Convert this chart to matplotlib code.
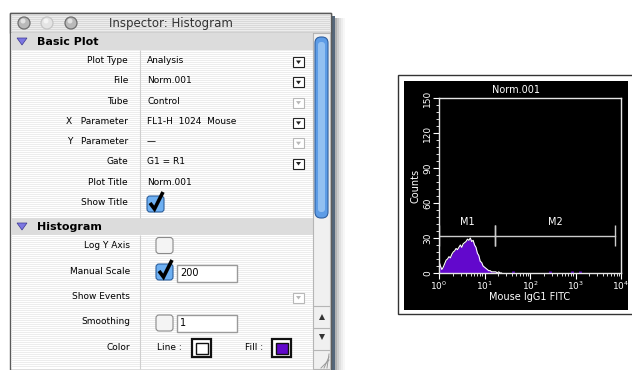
import numpy as np
import matplotlib.pyplot as plt
from matplotlib.patches import Rectangle, FancyBboxPatch, Circle, Polygon
from matplotlib.ticker import MultipleLocator, FixedLocator, LogLocator, NullFormatter

# ---- histogram data: channel numbers (256 channels per decade) and counts
hist_channels = [0, 8, 16, 24, 32, 40, 48, 56, 64, 72, 80, 88, 96, 104, 112,
                 120, 128, 136, 144, 152, 160, 168, 176, 184, 192, 200, 208,
                 216, 224, 232, 240, 248, 256, 264, 272, 280, 288, 296, 304,
                 312, 320, 328, 336, 344, 352]
hist_counts = [10, 6, 3, 5, 8, 11, 12, 14, 13, 16, 18, 19, 21, 20, 22,
               24, 22, 25, 26, 27, 29, 28, 30, 27, 28, 24, 22,
               17, 15, 10, 9, 6, 5, 4, 3, 2, 2, 1, 1,
               1, 1, 0, 1, 0, 0]
stray_channels = [416, 625, 749, 795]
stray_counts = [1.5, 1.5, 1.5, 1.5]

marker_names = ['M1', 'M2']
marker_lo = [1, 17]
marker_hi = [17, 7500]
marker_level = 32

x_ticks = [1, 10, 100, 1000, 10000]
y_ticks = [0, 30, 60, 90, 120, 150]

# ---- inspector panel content
basic_labels = ['Plot Type', 'File', 'Tube', 'X   Parameter', 'Y   Parameter',
                'Gate', 'Plot Title', 'Show Title']
basic_values = ['Analysis', 'Norm.001', 'Control', 'FL1-H  1024  Mouse', '\u2014',
                'G1 = R1', 'Norm.001', '']
basic_popup = ['on', 'on', 'off', 'on', 'off', 'on', None, None]
hist_labels = ['Log Y Axis', 'Manual Scale', 'Show Events', 'Smoothing', 'Color']
fill_color = '#6208cc'

fig = plt.figure(figsize=(6.32, 3.70), dpi=100)
ui = fig.add_axes([0, 0, 1, 1])
ui.set_xlim(0, 632)
ui.set_ylim(370, 0)
ui.axis('off')


def popup(x, y, enabled):
    ec = '#222222' if enabled else '#b8b8b8'
    ui.add_patch(Rectangle((x, y - 5), 11, 10, fc='white', ec=ec, lw=0.8, zorder=3))
    ui.add_patch(Polygon([(x + 3, y - 1.5), (x + 8, y - 1.5), (x + 5.5, y + 2)],
                         fc=ec, ec='none', zorder=3))


def checkbox(x, y, checked):
    if checked:
        ui.add_patch(FancyBboxPatch((x, y - 8), 17, 16, boxstyle='round,pad=0,rounding_size=3',
                                    fc='#6eb0f2', ec='#2d5f9c', lw=0.8, zorder=3))
        ui.plot([x + 3, x + 7.5, x + 16], [y - 1, y + 5, y - 12], color='black', lw=2.6,
                solid_capstyle='butt', solid_joinstyle='miter', zorder=4)
    else:
        ui.add_patch(FancyBboxPatch((x, y - 8), 17, 16, boxstyle='round,pad=0,rounding_size=3',
                                    fc='#f4f4f4', ec='#8a8a8a', lw=0.8, zorder=3))


def textfield(x, y, w, text):
    ui.add_patch(Rectangle((x, y - 8), w, 17, fc='white', ec='#9a9a9a', lw=1, zorder=3))
    ui.text(x + 3, y + 0.5, text, fontsize=7, va='center', ha='left', zorder=4)


def swatch(x, y, color):
    ui.add_patch(Rectangle((x, y - 9), 19, 18, fc='white', ec='#111111', lw=1.6, zorder=3))
    ui.add_patch(Rectangle((x + 3.5, y - 5.5), 12, 11, fc=color, ec='#111111', lw=1, zorder=3))


# window frame and shadow
ui.add_patch(Rectangle((330, 16), 5, 354, fc='#55677b', ec='none', zorder=0.1))
for i, a in enumerate([0.30, 0.20, 0.12, 0.07, 0.03]):
    ui.add_patch(Rectangle((335 + i * 2, 18), 2, 352, fc='black', alpha=a, ec='none', zorder=0.1))
ui.add_patch(Rectangle((10, 13), 321, 357, fc='white', ec='#5a5a5a', lw=1, zorder=0.2))

# title bar
ui.add_patch(Rectangle((10, 13), 321, 20, fc='#ededed', ec='#5a5a5a', lw=1, zorder=0.3))
ui.hlines(np.arange(15, 33, 2), 11, 330, color='#d9d9d9', lw=0.7, zorder=0.4)
for cx, c in zip([24, 47, 71], ['#b9b9b9', '#e4e4e4', '#b9b9b9']):
    ui.add_patch(Circle((cx, 23), 6, fc=c, ec='#6e6e6e' if c != '#e4e4e4' else '#c4c4c4',
                        lw=0.9, zorder=3))
    ui.add_patch(Circle((cx - 1, 21), 2.5, fc='white', alpha=0.6, ec='none', zorder=3))
ui.text(171, 23, 'Inspector: Histogram', fontsize=8.5, color='#333333',
        ha='center', va='center')

# pinstripes
ui.hlines(np.arange(34, 368, 2), 11, 313, color='#ededed', lw=0.7, zorder=0.4)

# section headers
for y0, name in [(33, 'Basic Plot'), (218, 'Histogram')]:
    ui.add_patch(Rectangle((11, y0), 302, 17, fc='#dcdcdc', ec='none', zorder=0.5))
    ui.add_patch(Polygon([(17, y0 + 5), (27, y0 + 5), (22, y0 + 12)],
                         fc='#7c76e2', ec='#3c3890', lw=0.5, zorder=3))
    ui.text(37, y0 + 9, name, fontsize=8, fontweight='bold', va='center')

ui.vlines(140, 50, 218, color='#cfcfcf', lw=0.8, zorder=0.6)
ui.vlines(140, 235, 369, color='#cfcfcf', lw=0.8, zorder=0.6)

# basic plot rows
for i, (lab, val, pop) in enumerate(zip(basic_labels, basic_values, basic_popup)):
    y = 60.5 + 20.3 * i
    ui.text(128, y, lab, fontsize=6.5, ha='right', va='center')
    if val:
        ui.text(147, y, val, fontsize=6.5, ha='left', va='center')
    if pop is not None:
        popup(293, y + 1.5, pop == 'on')
checkbox(147, 204, True)

# histogram rows
for i, lab in enumerate(hist_labels):
    y = 245.5 + 25.5 * i
    ui.text(130, y, lab, fontsize=6.5, ha='right', va='center')
checkbox(156, 245.5, False)
checkbox(156, 272, True)
textfield(177, 273, 60, '200')
popup(293, 297.5, False)
checkbox(156, 323, False)
textfield(177, 323, 60, '1')
ui.text(157, 347, 'Line :', fontsize=6.5, ha='left', va='center')
swatch(192, 348, 'white')
ui.text(245, 347, 'Fill :', fontsize=6.5, ha='left', va='center')
swatch(272, 348, fill_color)

# scroll bar
ui.add_patch(Rectangle((313, 33), 17, 336, fc='#f0f0f0', ec='#b5b5b5', lw=0.8, zorder=2))
ui.add_patch(FancyBboxPatch((315, 37), 13, 181, boxstyle='round,pad=0,rounding_size=6',
                            fc='#5d9ce6', ec='#2f5f9f', lw=0.8, zorder=3))
ui.add_patch(FancyBboxPatch((318, 42), 7, 170, boxstyle='round,pad=0,rounding_size=3',
                            fc='#a9d0f7', ec='none', alpha=0.7, zorder=3))
ui.hlines([306, 328, 350], 313, 330, color='#b5b5b5', lw=0.8, zorder=3)
ui.add_patch(Polygon([(319, 320), (325, 320), (322, 314)], fc='#333333', ec='none', zorder=3))
ui.add_patch(Polygon([(319, 334), (325, 334), (322, 340)], fc='#333333', ec='none', zorder=3))
for k in range(3):
    ui.plot([321 + 3 * k, 329], [368, 360 - 3 * k], color='#9a9a9a', lw=0.7, zorder=3)

# histogram frame
ui.add_patch(Rectangle((398, 75), 240, 239, fc='white', ec='#333333', lw=1))
ui.add_patch(Rectangle((404, 81), 224, 229, fc='black', ec='none'))
ui.text(516, 90, 'Norm.001', fontsize=7, color='white', ha='center', va='center')

# histogram axes
ax = fig.add_axes([439 / 632, 1 - 273 / 370, 182 / 632, 175 / 370])
ax.set_facecolor('black')
x = 10 ** (np.array(hist_channels) / 256)
ax.fill_between(x, hist_counts, color=fill_color, lw=0)
ax.plot(x, hist_counts, color='white', lw=0.8)
ax.vlines(10 ** (np.array(stray_channels) / 256), 0, stray_counts, color=fill_color, lw=2)

for name, lo, hi in zip(marker_names, marker_lo, marker_hi):
    ax.plot([lo, hi], [marker_level, marker_level], color='#cccccc', lw=1)
    ax.vlines([lo, hi], marker_level - 9, marker_level + 9, color='#cccccc', lw=1)
    ax.text(np.sqrt(lo * hi), marker_level + 12, name, color='white', fontsize=7,
            ha='center', va='center')

ax.set_xscale('log')
ax.set_xlim(1, 10000)
ax.set_ylim(0, 150)
ax.xaxis.set_major_locator(FixedLocator(x_ticks))
ax.xaxis.set_minor_locator(LogLocator(base=10, subs=np.arange(2, 10)))
ax.xaxis.set_minor_formatter(NullFormatter())
ax.yaxis.set_major_locator(FixedLocator(y_ticks))
ax.yaxis.set_minor_locator(MultipleLocator(6))
for s in ax.spines.values():
    s.set_color('#e6e6e6')
    s.set_linewidth(1)
ax.tick_params(which='both', direction='out', colors='white', labelsize=6.5, pad=1)
ax.tick_params(which='major', length=4)
ax.tick_params(which='minor', length=2.5)
ax.tick_params(axis='y', labelrotation=90, labelsize=6.5)
for lab in ax.get_yticklabels():
    lab.set_va('center')
ax.set_ylabel('Counts', color='white', fontsize=7, labelpad=2)
ax.set_xlabel('Mouse IgG1 FITC', color='white', fontsize=7, labelpad=0)

plt.savefig('out.png', dpi=100)
